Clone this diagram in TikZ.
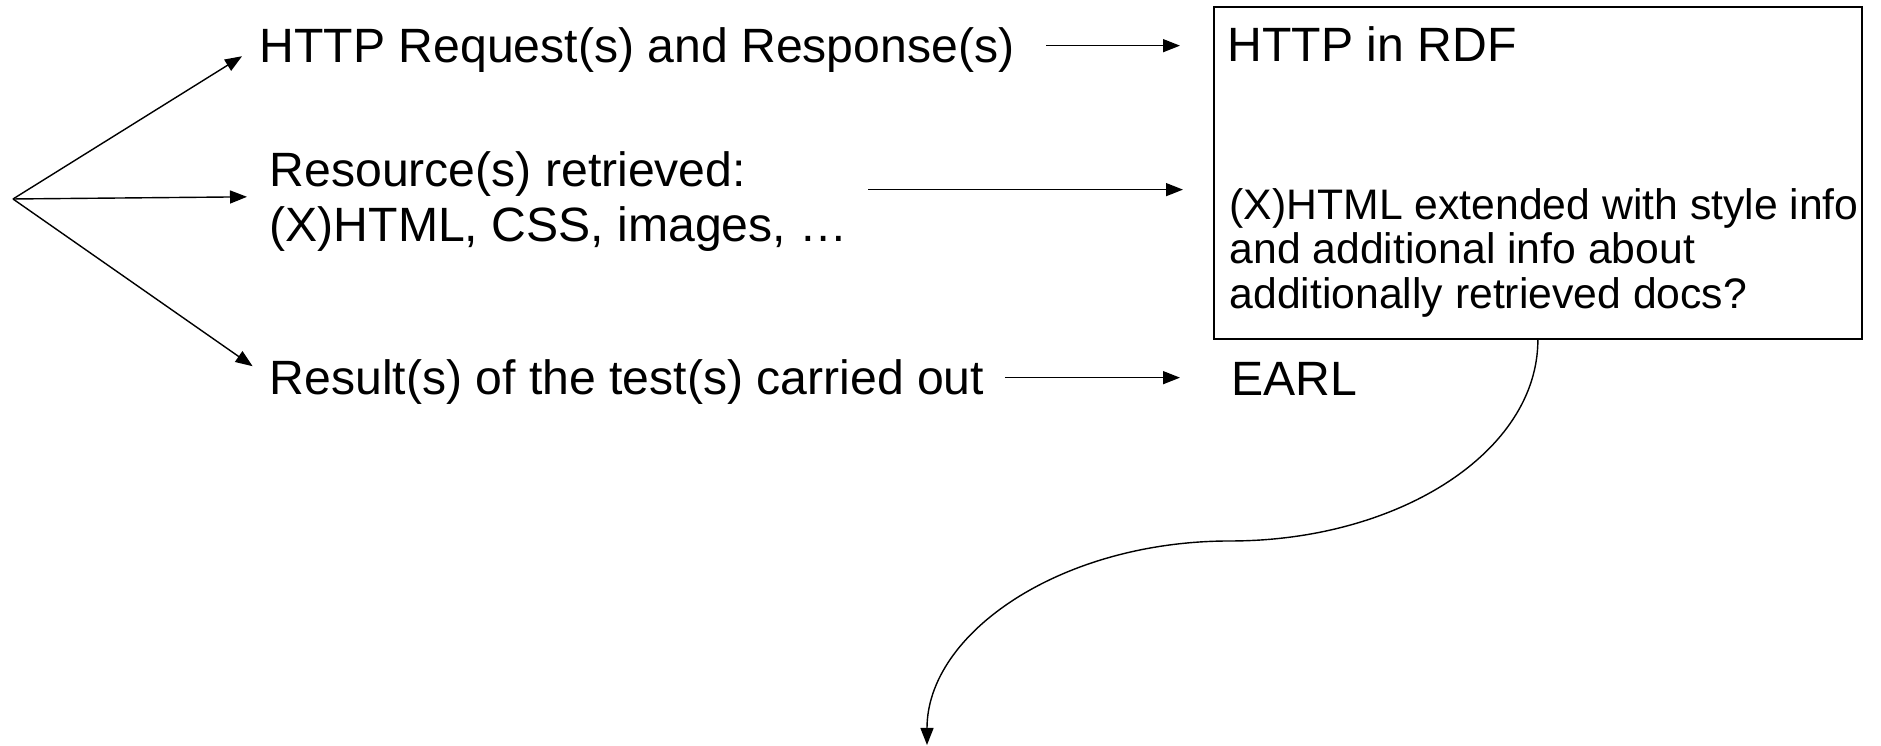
\documentclass[tikz,border=0pt]{standalone}
\usepackage{fontspec}
\setmainfont{Liberation Sans}
\usepackage{tikz}
\usetikzlibrary{arrows.meta}

\newcommand{\labelsz}{\fontsize{13.7}{15.65}\selectfont}
\newcommand{\boxsz}{\fontsize{12.15}{12.6}\selectfont}

\begin{document}
\begin{tikzpicture}[
  lbl/.style={inner sep=0pt, font=\labelsz, text height=9.86pt, text depth=0pt, anchor=base west},
  multi/.style={inner sep=0pt, align=left, anchor=north west},
  arr/.style={thin, -{Triangle[length=0.17cm,width=0.13cm]}}
]
  \useasboundingbox (0,0) rectangle (18.81,-7.46);
  \coordinate (src) at (0.13,-1.99);
  \node[lbl] (req) at (2.59,-0.63) {HTTP Request(s) and Response(s)};
  \node[multi,font=\labelsz] (res) at (2.69,-1.51) {Resource(s) retrieved:\\(X)HTML, CSS, images, \dots};
  \node[lbl] (result) at (2.69,-3.95) {Result(s) of the test(s) carried out};
  \node[draw, line width=0.5pt, anchor=north west, inner sep=0pt,
        minimum width=6.48cm, minimum height=3.32cm] (rdfbox) at (12.13,-0.06) {};
  \node[lbl] (rdf) at (12.27,-0.62) {HTTP in RDF};
  \node[multi,font=\boxsz] (xhtml) at (12.29,-1.88) {(X)HTML extended with style info\\and additional info about\\additionally retrieved docs?};
  \node[lbl] (earl) at (12.31,-3.96) {EARL};
  \coordinate (bend) at (12.30,-5.41);
  \coordinate (tail) at (9.27,-7.45);
  \draw[arr,shorten >=0.2cm] (src) -- (req.west);
  \draw[arr,shorten >=0.22cm] (src) -- ([yshift=0.05cm]res.west);
  \draw[arr,shorten >=0.2cm] (src) -- (result.west);
  \draw[arr,shorten <=0.31cm,shorten >=0.47cm] (req.east) -- (req.east -| rdf.west);
  \draw[arr,shorten <=0.2cm,shorten >=0.3cm] ([yshift=0.12cm]res.east) -- ([yshift=0.12cm]res.east -| rdfbox.west);
  \draw[arr,shorten <=0.2cm,shorten >=0.51cm] (result.east) -- (result.east -| earl.west);
  \draw[arr] (rdfbox.south) to[out=-90,in=0,out distance=1.12cm,in distance=1.69cm] (bend)
    to[out=180,in=90,out distance=1.69cm,in distance=1.12cm] (tail);
\end{tikzpicture}
\end{document}
